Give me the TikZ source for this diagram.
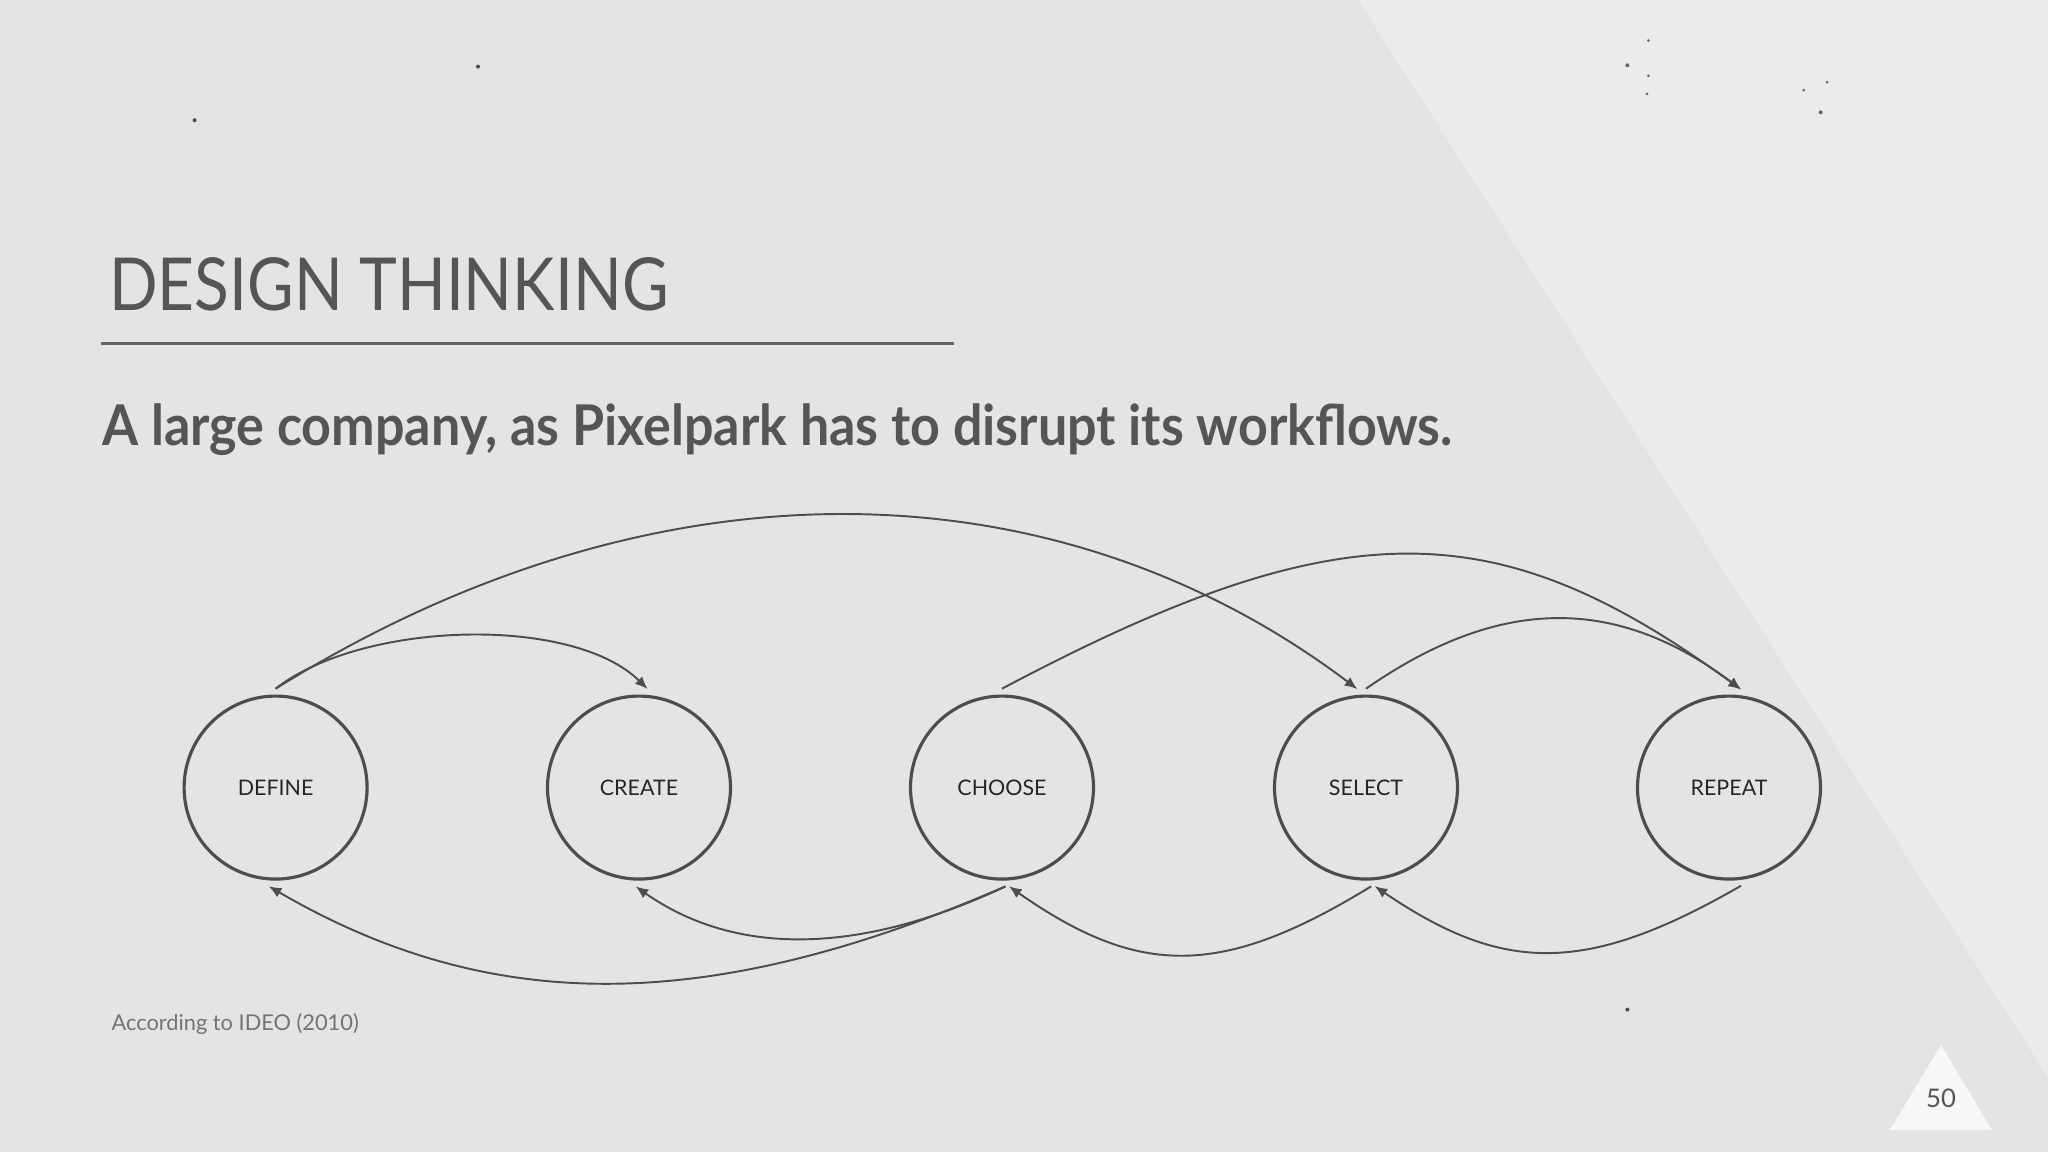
\documentclass[tikz,border=0pt]{standalone}
\usepackage{fontspec}
\setmainfont{Lato}
\newfontfamily\headfont{Lato}[FakeStretch=0.875]
\newfontfamily\claimfont{Lato}[FakeStretch=0.925]
\usetikzlibrary{arrows.meta}
\definecolor{slidebg}{HTML}{E5E4E4}
\definecolor{slidelight}{HTML}{ECEBEB}
\definecolor{inkgray}{HTML}{555555}
\definecolor{linegray}{HTML}{4D4D4D}
\tikzset{
	stage/.style={circle, draw=linegray, line width=0.9pt, minimum size=1.83cm, inner sep=0pt, outer sep=2.1pt, text=black!85, font=\fontsize{6.1}{7}\selectfont},
	flow/.style={draw=linegray, line width=0.55pt, -{Latex[length=3.6pt,width=3pt]}},
	slidetext/.style={anchor=base west, inner sep=0pt, text=inkgray},
}

\begin{document}
\begin{tikzpicture}
		%%%%% START %%%%%
		
		\useasboundingbox (0, 0) rectangle (20.48, 11.52);
		\fill[slidebg] (0, 0) rectangle (20.48, 11.52);
		\fill[slidelight] (13.58, 11.52) -- (20.48, 11.52) -- (20.48, 0.75) -- cycle;
		
		% dust
		\fill[black!70] (4.78, 10.854) circle (0.02);
		\fill[black!70] (1.946, 10.318) circle (0.02);
		\fill[black!60] (16.483, 11.115) circle (0.015);
		\fill[black!60] (16.274, 10.867) circle (0.02);
		\fill[black!60] (16.483, 10.762) circle (0.015);
		\fill[black!60] (16.47, 10.58) circle (0.015);
		\fill[black!60] (18.037, 10.619) circle (0.015);
		\fill[black!60] (18.272, 10.697) circle (0.015);
		\fill[black!60] (18.207, 10.397) circle (0.02);
		\fill[black!70] (16.274, 1.424) circle (0.02);
		
		\node[slidetext, font=\headfont\fontsize{20.8}{24}\selectfont] (title) at (1.084, 8.411) {DESIGN THINKING};
		\draw[line width=0.6pt, color=black!60] (1.006, 8.085) -- (9.535, 8.085);
		\node[slidetext, font=\claimfont\bfseries\fontsize{16}{19}\selectfont] (claim) at (1.019, 7.066) {A large company, as Pixelpark has to disrupt its workflows.};
		
		\node[stage] (define) at (2.756, 3.644) {DEFINE};
		\node[stage] (create) at (6.39, 3.644) {CREATE};
		\node[stage] (choose) at (10.02, 3.644) {CHOOSE};
		\node[stage] (select) at (13.66, 3.644) {SELECT};
		\node[stage] (repeat) at (17.29, 3.644) {REPEAT};
		
		\draw[flow] (define.north) .. controls +(0.87, 0.68) and +(-0.75, 0.74) .. (create.85);
		\draw[flow] (define.north) .. controls +(3.75, 2.34) and +(-3.05, 2.30) .. (select.95);
		\draw[flow] (choose.north) .. controls +(3.43, 1.82) and +(-2.43, 1.77) .. (repeat.83);
		\draw[flow] (select.north) .. controls +(1.38, 0.96) and +(-1.21, 0.91) .. (repeat.83);
		
		\draw[flow] (repeat.277) .. controls +(-1.56, -0.90) and +(1.28, -0.87) .. (select.275);
		\draw[flow] (select.273) .. controls +(-1.5, -0.92) and +(1.3, -0.91) .. (choose.274);
		\draw[flow] (choose.272) .. controls +(-1.51, -0.71) and +(0.97, -0.68) .. (create.268);
		\draw[flow] (choose.272) .. controls +(-3.0, -1.30) and +(2.2, -1.28) .. (define.266);
		
		\node[slidetext, text=black!55, font=\fontsize{6.2}{8}\selectfont] (source) at (1.11, 1.215) {According to IDEO (2010)};
		
		\fill[white!60!slidelight] (19.41, 1.07) -- (18.90, 0.22) -- (19.92, 0.22) -- cycle;
		\node[text=inkgray, inner sep=0pt, font=\fontsize{7.3}{9}\selectfont] (pageno) at (19.41, 0.537) {50};
		
		%%%%% END %%%%%
\end{tikzpicture}
\end{document}
